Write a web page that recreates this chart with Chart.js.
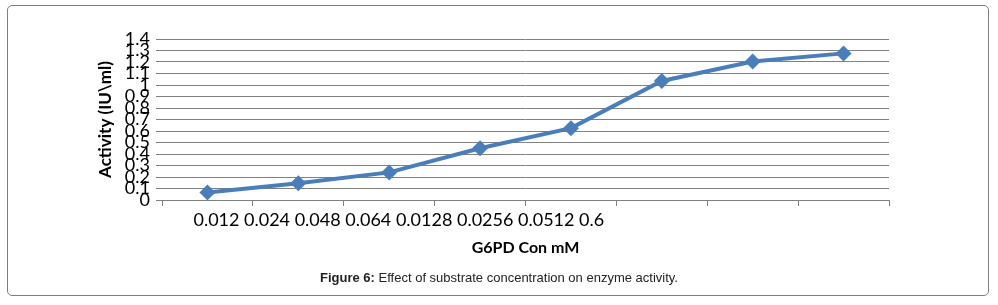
<!DOCTYPE html>
<html>
<head>
<meta charset="utf-8">
<script src="https://cdn.jsdelivr.net/npm/chart.js@4"></script>
<style>
  body { margin: 0; background: #fff; }
  #wrap { position: relative; width: 998px; height: 305px; }
  #frame {
    position: absolute; left: 7px; top: 5px; width: 982px; height: 291px;
    border: 1px solid #7f7f7f; border-radius: 5px; box-sizing: border-box;
  }
  #caption {
    position: absolute; left: 0; top: 270px; width: 998px; text-align: center;
    font-family: "Liberation Sans", Arial, sans-serif; font-size: 13px; color: #222;
  }
</style>
</head>
<body>
<div id="wrap">
  <canvas id="activityChart"></canvas>
  <div id="frame"></div>
  <div id="caption"><b>Figure 6:</b> Effect of substrate concentration on enzyme activity.</div>
</div>
<script>
const concentrations = ["0.012", "0.024", "0.048", "0.064", "0.0128", "0.0256", "0.0512", "0.6"];
const activity = [0.066, 0.145, 0.24, 0.45, 0.625, 1.035, 1.205, 1.275];

const ctx = document.getElementById("activityChart");
const lineBlue = "#4a7ebb";
const gridGrey = "#808080";

const activityChart = new Chart(ctx, {
  type: "line",
  data: {
    labels: concentrations,
    datasets: [
      {
        label: "Activity",
        data: activity,
        borderColor: lineBlue,
        backgroundColor: lineBlue,
        borderWidth: 4,
        pointStyle: "rectRot",
        pointRadius: 8,
        pointHoverRadius: 8,
        pointBorderWidth: 0,
        tension: 0,
      },
    ],
  },
  options: {
    responsive: true,
    maintainAspectRatio: false,
    animation: false,
    layout: {
      padding: { left: 93, right: 109, top: 39, bottom: 45 },
    },
    plugins: {
      legend: { display: false },
      tooltip: { enabled: false },
    },
    scales: {
      x: {
        offset: true,
        afterFit: (scale) => { scale.height = 60; },
        grid: {
          offset: true,
          drawOnChartArea: false,
          drawTicks: true,
          tickLength: 6,
          color: gridGrey,
        },
        border: { display: true, color: gridGrey },
        ticks: {
          autoSkip: false,
          maxRotation: 0,
          minRotation: 0,
          align: "start",
          labelOffset: -14,
          padding: 3,
          color: "#000",
          font: { family: "Lato", size: 18 },
          // the whole label row sits in one text run, as in the source figure
          callback: (value, index) => (index === 0 ? concentrations.join(" ") : ""),
        },
        title: {
          display: true,
          text: "G6PD Con mM",
          color: "#000",
          font: { family: "Lato", size: 16, weight: "bold" },
          padding: { top: 0, bottom: 3 },
        },
      },
      y: {
        min: 0,
        max: 1.4,
        afterFit: (scale) => { scale.width = 69; },
        grid: {
          color: gridGrey,
          drawTicks: true,
          tickLength: 6,
        },
        border: { display: false },
        ticks: {
          stepSize: 0.1,
          autoSkip: false,
          padding: 6,
          color: "#000",
          font: { family: "Lato", size: 18 },
          callback: (value) => Number(value.toFixed(1)).toString(),
        },
        title: {
          display: true,
          text: "Activity (IU\\ml)",
          color: "#000",
          font: { family: "Lato", size: 17, weight: "bold" },
          padding: { top: 2, bottom: 0 },
        },
      },
    },
  },
});
</script>
</body>
</html>
